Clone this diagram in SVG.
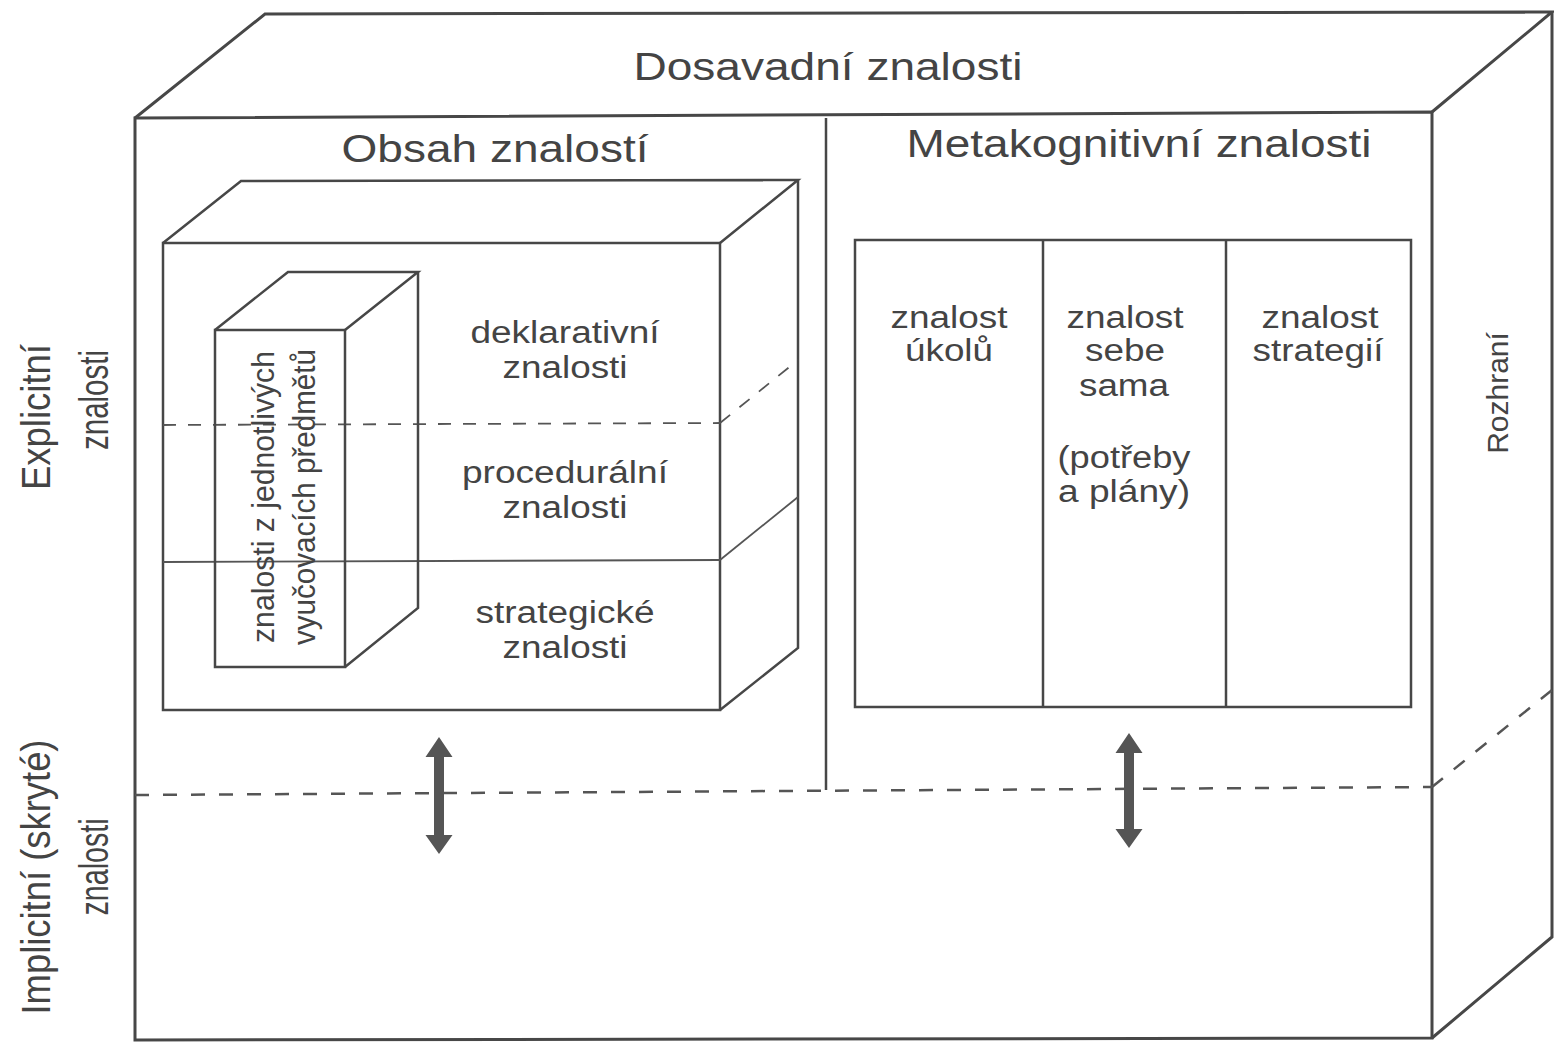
<svg xmlns="http://www.w3.org/2000/svg" width="1554" height="1045" viewBox="0 0 1554 1045">
<style>
.edge{fill:none;stroke:#474747;stroke-width:3;stroke-linejoin:miter}
.mid{fill:none;stroke:#474747;stroke-width:2.5}
.thin{fill:none;stroke:#555;stroke-width:1.8}
.dash{fill:none;stroke:#555;stroke-width:2.5;stroke-dasharray:14 14}
.dashs{fill:none;stroke:#555;stroke-width:1.8;stroke-dasharray:13 12}
.t{font-family:"Liberation Sans",Arial,sans-serif;fill:#444}
.h{font-size:38px;text-anchor:middle}
.b{font-size:31px;text-anchor:middle}
.c{font-size:41px;text-anchor:middle}
.arrow{fill:#555;stroke:none}
</style>
<rect x="0" y="0" width="1554" height="1045" fill="#fff"/>

<g id="outer-cube">
  <polygon class="edge" points="135,118 1432,112 1432,1038 135,1040"/>
  <polyline class="edge" points="135,118 265,14 1552,12 1432,112"/>
  <polyline class="edge" points="1552,12 1552,937 1432,1038"/>
  <text class="t h" x="828" y="80" textLength="389" lengthAdjust="spacingAndGlyphs">Dosavadní znalosti</text>
</g>

<g id="divider">
  <line class="mid" x1="826" y1="118" x2="826" y2="790"/>
</g>

<g id="obsah-znalosti">
  <text class="t h" x="495" y="162" textLength="307" lengthAdjust="spacingAndGlyphs">Obsah znalostí</text>
</g>

<g id="metakognitivni-znalosti">
  <text class="t h" x="1139" y="157" textLength="465" lengthAdjust="spacingAndGlyphs">Metakognitivní znalosti</text>
</g>

<g id="content-cube">
  <rect class="mid" x="163" y="243" width="557" height="467"/>
  <polyline class="mid" points="163,243 241,181 798,180 720,243"/>
  <polyline class="mid" points="798,180 798,648 720,710"/>
  <line class="dashs" x1="163" y1="425" x2="720" y2="423"/>
  <line class="dashs" x1="720" y1="423" x2="798" y2="360"/>
  <line class="thin" x1="163" y1="562" x2="720" y2="560"/>
  <line class="thin" x1="720" y1="560" x2="798" y2="497"/>
  <text class="t b" x="565" y="343" textLength="189" lengthAdjust="spacingAndGlyphs">deklarativní</text>
  <text class="t b" x="565" y="378" textLength="125" lengthAdjust="spacingAndGlyphs">znalosti</text>
  <text class="t b" x="565" y="483" textLength="206" lengthAdjust="spacingAndGlyphs">procedurální</text>
  <text class="t b" x="565" y="518" textLength="125" lengthAdjust="spacingAndGlyphs">znalosti</text>
  <text class="t b" x="565" y="623" textLength="179" lengthAdjust="spacingAndGlyphs">strategické</text>
  <text class="t b" x="565" y="658" textLength="125" lengthAdjust="spacingAndGlyphs">znalosti</text>
</g>

<g id="subject-cube">
  <rect class="mid" x="215" y="330" width="130" height="337" fill="#fff"/>
  <polyline class="mid" points="215,330 288,272 418,272 345,330"/>
  <polyline class="mid" points="418,272 418,608 345,667"/>
  <text class="t" font-size="31" text-anchor="middle" transform="translate(274,497) rotate(-90)" textLength="292" lengthAdjust="spacingAndGlyphs">znalosti z jednotlivých</text>
  <text class="t" font-size="31" text-anchor="middle" transform="translate(315,497) rotate(-90)" textLength="296" lengthAdjust="spacingAndGlyphs">vyučovacích předmětů</text>
</g>

<g id="meta-box">
  <rect class="mid" x="855" y="240" width="556" height="467"/>
  <line class="mid" x1="1043" y1="240" x2="1043" y2="707"/>
  <line class="mid" x1="1226" y1="240" x2="1226" y2="707"/>
  <text class="t b" x="949" y="328" textLength="117" lengthAdjust="spacingAndGlyphs">znalost</text>
  <text class="t b" x="949" y="361" textLength="88" lengthAdjust="spacingAndGlyphs">úkolů</text>
  <text class="t b" x="1125" y="328" textLength="117" lengthAdjust="spacingAndGlyphs">znalost</text>
  <text class="t b" x="1125" y="361" textLength="80" lengthAdjust="spacingAndGlyphs">sebe</text>
  <text class="t b" x="1124" y="396" textLength="90" lengthAdjust="spacingAndGlyphs">sama</text>
  <text class="t b" x="1124" y="468" textLength="133" lengthAdjust="spacingAndGlyphs">(potřeby</text>
  <text class="t b" x="1124" y="502" textLength="132" lengthAdjust="spacingAndGlyphs">a plány)</text>
  <text class="t b" x="1320" y="328" textLength="117" lengthAdjust="spacingAndGlyphs">znalost</text>
  <text class="t b" x="1318" y="361" textLength="131" lengthAdjust="spacingAndGlyphs">strategií</text>
</g>

<g id="implicit-boundary">
  <line class="dash" x1="135" y1="795" x2="1432" y2="787"/>
  <line class="dash" x1="1432" y1="787" x2="1552" y2="690"/>
</g>

<g id="labels">
  <text class="t c" transform="translate(50,417) rotate(-90)" textLength="146" lengthAdjust="spacingAndGlyphs">Explicitní</text>
  <text class="t c" transform="translate(108,400) rotate(-90)" textLength="100" lengthAdjust="spacingAndGlyphs">znalosti</text>
  <text class="t c" transform="translate(50,877) rotate(-90)" textLength="275" lengthAdjust="spacingAndGlyphs">Implicitní (skryté)</text>
  <text class="t c" transform="translate(108,867) rotate(-90)" textLength="97" lengthAdjust="spacingAndGlyphs">znalosti</text>
  <text class="t" font-size="30" text-anchor="middle" transform="translate(1508,393) rotate(-90)">Rozhraní</text>
</g>

<g id="connectors">
  <path class="arrow" d="M439,737 L452.5,757 L444,757 L444,835 L452.5,835 L439,854 L425.5,835 L434,835 L434,757 L425.5,757 Z"/>
  <path class="arrow" d="M1129,733 L1142.5,753 L1134,753 L1134,829 L1142.5,829 L1129,848 L1115.5,829 L1124,829 L1124,753 L1115.5,753 Z"/>
</g>
</svg>
